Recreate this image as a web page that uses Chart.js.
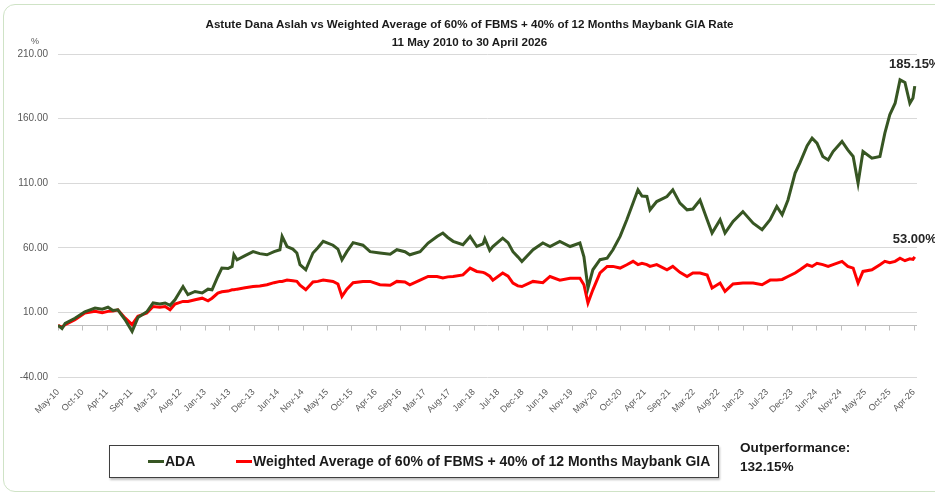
<!DOCTYPE html>
<html>
<head>
<meta charset="utf-8">
<title>Astute Dana Aslah vs Benchmark</title>
<script src="https://cdn.jsdelivr.net/npm/chart.js"></script>
<style>
  body { margin: 0; background: #fff; font-family: 'Liberation Sans', Arial, sans-serif; }
  .frame {
    position: absolute; left: 3px; top: 4px; width: 970px; height: 486px;
    border: 1.5px solid #cfe3c6; border-radius: 12px;
  }
  #chartBox { position: absolute; left: 0; top: 0; width: 935px; height: 498px; }
  .title {
    position: absolute; left: 2px; top: 15px; width: 935px; text-align: center;
    font-weight: bold; font-size: 11.6px; line-height: 18px; color: #1a1a1a;
  }
  .unit { position: absolute; left: 31px; top: 36px; font-size: 9px; color: #595959; }
  .legend {
    position: absolute; left: 109px; top: 445px; width: 608px; height: 31px;
    border: 1px solid #3f3f3f; box-shadow: 1px 2px 2px rgba(0,0,0,0.25);
    font-weight: bold; font-size: 14px; color: #1a1a1a;
  }
  .legend .item { position: absolute; top: 7px; white-space: nowrap; }
  .legend .swatch { display: inline-block; width: 16px; height: 3px; vertical-align: middle; margin-right: 1px; position: relative; top: -1px; }
  .outperf {
    position: absolute; left: 740px; top: 438px;
    font-weight: bold; font-size: 13.6px; line-height: 19px; color: #1a1a1a;
  }
</style>
</head>
<body>
<div class="frame"></div>
<div id="chartBox"><canvas id="perfChart" width="935" height="498"></canvas></div>
<div class="title">Astute Dana Aslah vs Weighted Average of 60% of FBMS + 40% of 12 Months Maybank GIA Rate<br>11 May 2010 to 30 April 2026</div>
<div class="unit">%</div>
<div class="legend" id="legend"></div>
<div class="outperf">Outperformance:<br>132.15%</div>

<script>
// x position of each reading, in months since 11 May 2010
const monthOffset = [
  0, 0.9, 1.6, 3.8, 6.0, 8.3, 9.9, 11.2, 12.3, 13.4, 15.0, 16.6, 17.9, 19.9, 21.3, 22.8,
  24.0, 25.1, 26.2, 28.0, 29.1, 30.7, 32.3, 33.6, 34.5, 35.8, 36.7, 38.1, 39.0, 39.4, 40.1, 41.9,
  43.7, 45.2, 46.8, 48.4, 49.7, 50.2, 51.3, 52.6, 53.5, 54.2, 55.5, 57.1, 58.2, 59.4, 61.6, 62.7,
  63.6, 64.7, 66.1, 68.3, 69.9, 72.1, 74.4, 75.9, 77.7, 78.8, 81.1, 82.9, 84.9, 86.2, 87.3, 88.5,
  90.7, 92.3, 93.8, 95.2, 95.6, 96.7, 97.4, 99.6, 100.8, 101.9, 103.0, 103.9, 106.4, 108.6, 110.2, 112.4,
  114.7, 116.9, 117.8, 118.7, 119.8, 121.4, 123.0, 124.3, 125.9, 127.4, 128.8, 129.9, 130.8, 131.9, 132.6, 134.1,
  136.4, 137.7, 139.3, 140.9, 142.2, 143.8, 145.4, 146.5, 148.3, 149.4, 151.2, 153.4, 155.7, 157.7, 159.5, 161.0,
  162.2, 163.5, 165.1, 166.2, 167.8, 168.9, 170.0, 171.3, 172.5, 173.6, 175.6, 176.9, 178.1, 179.2, 180.3, 182.3,
  184.1, 185.2, 186.3, 187.5, 188.6, 189.7, 190.8, 191.5, 191.9
];

// Astute Dana Aslah cumulative return (%)
const adaValues = [
  0, -2.5, 1.5, 5.5, 10.5, 13.4, 12.5, 14, 11.5, 12, 4.5, -4.7, 6, 10.5, 17.3, 16.5,
  17.3, 15.5, 19.8, 30, 23.7, 26.2, 25, 28, 27.5, 37.8, 44.3, 44, 45.6, 54.6, 50.7, 54,
  57, 55.5, 54.6, 57, 58.5, 68.8, 61, 59, 56, 47, 43, 56, 60, 65, 62, 59,
  50.7, 57, 64, 62, 57, 56, 55, 58.5, 57, 54.6, 57, 63.7, 68.8, 71.4, 68, 65,
  62.4, 68.8, 61, 63, 67, 58, 61, 67.5, 64, 57, 53, 49.4, 58.5, 63.7, 61, 65,
  61, 63.7, 53, 28.9, 43, 50.8, 52, 58.5, 68.8, 81.7, 94.6, 104.9, 100, 99.7, 89.4, 95.8,
  99.7, 104.9, 94.6, 89.4, 90, 97, 81.7, 71.4, 81.7, 71.4, 80.4, 88, 79, 74, 81.7, 92,
  85.6, 97, 117.8, 126, 139, 144.9, 141, 130.7, 128, 134.5, 142.3, 135.8, 130.7, 110, 134.5, 129.4,
  130.7, 148.7, 162.9, 171.9, 190, 188, 171.9, 176, 185.15
];

// Weighted average of 60% FBMS + 40% 12-month Maybank GIA (%)
const benchValues = [
  0, -1.5, 0.5, 4.4, 9.5, 10.8, 9.8, 10.8, 11, 12, 5.7, 0.5, 7, 9.5, 14.6, 14,
  14.6, 12, 16.5, 18.5, 18.5, 19.8, 21, 19, 21, 25, 26, 26.5, 27.5, 27.5, 28, 29,
  30, 30.5, 31.4, 33, 34, 34, 35, 34.5, 34, 31, 27.5, 33.5, 34, 35, 34, 32,
  22.4, 28, 33, 34, 34, 31.4, 31, 34, 33.5, 31.4, 35, 37.8, 37.8, 36.6, 37.5, 37.8,
  39, 44.3, 41.7, 41, 40.5, 38, 35, 40.5, 38, 32.7, 30.5, 30, 34, 33, 37.8, 35,
  36.5, 36.5, 31.4, 17.3, 27.5, 40.5, 45.6, 45.6, 44.3, 46.9, 49.5, 47, 48, 47, 45.6, 47,
  43, 45.6, 41, 37.8, 40.5, 40.5, 39, 28.9, 32.7, 26.2, 32, 32.7, 32.7, 31.4, 35, 35,
  35.5, 37.8, 40.5, 43, 46.9, 45.6, 48, 47, 45.6, 47, 49.5, 45.6, 44.3, 32.7, 41.7, 43,
  46.9, 49.5, 48.5, 49.5, 52, 50, 51.5, 51, 53.0
];

const tickLabels = [
  'May-10', 'Oct-10', 'Apr-11', 'Sep-11', 'Mar-12', 'Aug-12', 'Jan-13', 'Jul-13', 'Dec-13',
  'Jun-14', 'Nov-14', 'May-15', 'Oct-15', 'Apr-16', 'Sep-16', 'Mar-17', 'Aug-17', 'Jan-18',
  'Jul-18', 'Dec-18', 'Jun-19', 'Nov-19', 'May-20', 'Oct-20', 'Apr-21', 'Sep-21', 'Mar-22',
  'Aug-22', 'Jan-23', 'Jul-23', 'Dec-23', 'Jun-24', 'Nov-24', 'May-25', 'Oct-25', 'Apr-26'
];
const lastTickMonth = 191.7;   // Apr-26 label position
const tickStep = lastTickMonth / (tickLabels.length - 1);

const seriesNames = ['ADA', 'Weighted Average of 60% of FBMS + 40% of 12 Months Maybank GIA'];
const seriesColors = ['#375623', '#ff0000'];
const endLabelLift = [22, 17];

const toPoints = vals => vals.map((v, i) => ({ x: monthOffset[i], y: v }));

// ticks sit on the 0% line, end value labels above last point
const extras = {
  id: 'extras',
  beforeDatasetsDraw(chart) {
    const { ctx, scales: { x, y } } = chart;
    const y0 = Math.round(y.getPixelForValue(0)) + 0.5;
    ctx.save();
    ctx.strokeStyle = '#bfbfbf';
    ctx.lineWidth = 1;
    ctx.beginPath();
    ctx.moveTo(x.left, y0);
    ctx.lineTo(x.right, y0);
    x.ticks.forEach(t => {
      const px = Math.round(x.getPixelForValue(t.value)) + 0.5;
      ctx.moveTo(px, y0);
      ctx.lineTo(px, y0 + 5);
    });
    ctx.stroke();
    ctx.restore();
  },
  afterDatasetsDraw(chart) {
    const { ctx } = chart;
    ctx.save();
    ctx.font = "bold 13px 'Liberation Sans', sans-serif";
    ctx.fillStyle = '#262626';
    ctx.textAlign = 'center';
    ctx.textBaseline = 'middle';
    chart.data.datasets.forEach((ds, i) => {
      const pts = chart.getDatasetMeta(i).data;
      const last = pts[pts.length - 1];
      const val = ds.data[ds.data.length - 1].y;
      ctx.fillText(val.toFixed(2) + '%', last.x, last.y - endLabelLift[i]);
    });
    ctx.restore();
  }
};

const chart = new Chart(document.getElementById('perfChart'), {
  type: 'line',
  data: {
    datasets: [
      { label: seriesNames[0], data: toPoints(adaValues), borderColor: seriesColors[0], borderWidth: 3, pointRadius: 0, tension: 0 },
      { label: seriesNames[1], data: toPoints(benchValues), borderColor: seriesColors[1], borderWidth: 3, pointRadius: 0, tension: 0 }
    ]
  },
  options: {
    responsive: false,
    animation: false,
    layout: { padding: { top: 54, right: 18, left: 0, bottom: 0 } },
    plugins: { legend: { display: false }, tooltip: { enabled: false } },
    scales: {
      x: {
        type: 'linear',
        min: 0,
        max: 192.4,
        grid: { display: false },
        border: { display: false },
        afterBuildTicks: scale => { scale.ticks = tickLabels.map((_, i) => ({ value: i * tickStep })); },
        afterFit: scale => { scale.height = 121; },
        ticks: {
          autoSkip: false,
          minRotation: 45,
          maxRotation: 45,
          padding: 2,
          color: '#595959',
          font: { size: 9, family: "'Liberation Sans', sans-serif" },
          callback: (v, i) => tickLabels[i]
        }
      },
      y: {
        min: -40,
        max: 210,
        afterFit: scale => { scale.width = 58; },
        grid: { color: '#d9d9d9', drawTicks: false },
        border: { display: false },
        ticks: {
          stepSize: 50,
          padding: 10,
          color: '#595959',
          font: { size: 10, family: "'Liberation Sans', sans-serif" },
          callback: v => v.toFixed(2)
        }
      }
    }
  },
  plugins: [extras]
});

// html legend built from the datasets
const legend = document.getElementById('legend');
const legendX = [38, 126];
chart.data.datasets.forEach((ds, i) => {
  const item = document.createElement('div');
  item.className = 'item';
  item.style.left = legendX[i] + 'px';
  item.innerHTML = '<span class="swatch" style="background:' + ds.borderColor + '"></span>' + ds.label;
  legend.appendChild(item);
});
</script>
</body>
</html>
